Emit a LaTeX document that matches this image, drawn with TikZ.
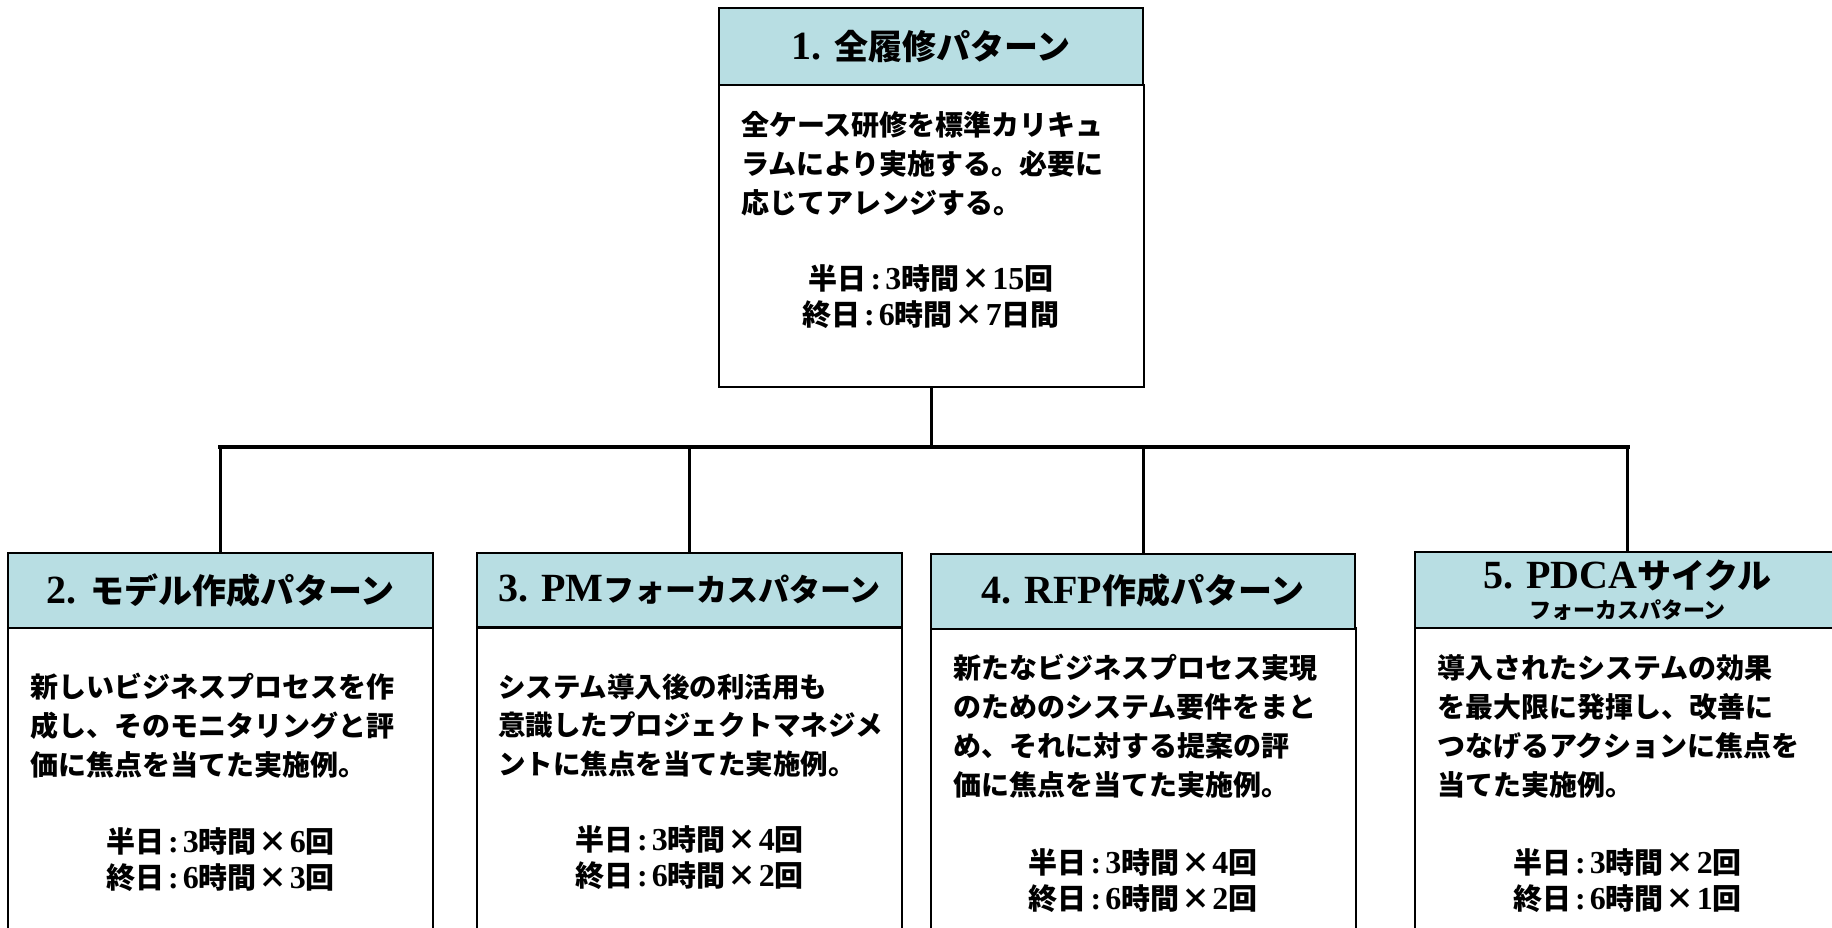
\documentclass[tikz,border=0pt]{standalone}
\usepackage{fontspec}
\setmainfont{Liberation Serif}
\newfontfamily\jp{Noto Sans CJK JP}
\newcommand\lt[1]{{\rmfamily\bfseries\fontsize{32}{36}\selectfont #1}}
\newcommand\hl[1]{{\rmfamily\bfseries\fontsize{40}{40}\selectfont #1}}
\newcommand\cl{\hspace{4pt}{\rmfamily\bfseries\fontsize{32}{36}\selectfont :}\hspace{4pt}}
\newcommand\tm{\hspace{2pt}×\hspace{2pt}}
\definecolor{hdrfill}{RGB}{184,222,227}
\tikzset{
  hdr/.style={draw=black, line width=2pt, fill=hdrfill, minimum width=425pt, inner sep=0pt,
    font=\jp\bfseries\fontsize{34}{36}\selectfont, align=center},
  bodybox/.style={draw=black, line width=2pt, fill=white, minimum width=425pt, inner sep=0pt},
  desc/.style={anchor=north west, inner sep=0pt, align=left,
    font=\jp\bfseries\fontsize{28}{39}\selectfont},
  sched/.style={anchor=north, inner sep=0pt, align=center,
    font=\jp\bfseries\fontsize{29}{36}\selectfont},
  conn/.style={line width=3pt, black},
  bus/.style={line width=4.5pt, black, line cap=rect},
}
\begin{document}
\begin{tikzpicture}[x=1pt, y=-1pt]
\clip (0,0) rectangle (1832,928);
\fill[white] (0,0) rectangle (1832,928);

% top box
\node[bodybox, minimum height=302pt] (b1) at (931,236) {};
\node[hdr, minimum width=424pt, minimum height=77pt] (h1) at (931,46.5) {\hl{1. }全履修パターン};
\node[desc] (t1) at (741,108) {\strut 全ケース研修を標準カリキュ\\\strut ラムにより実施する。必要に\\\strut 応じてアレンジする。};
\node[sched] (s1) at (931,264) {\strut 半日\cl\lt{3}時間\tm\lt{15}回\\\strut 終日\cl\lt{6}時間\tm\lt{7}日間};

% bottom boxes
\node[bodybox, minimum height=332pt] (b2) at (220.5,794) {};
\node[hdr, minimum height=75pt] (h2) at (220.5,590.5) {\hl{2. }モデル作成パターン};
\node[desc] (t2) at (30,670) {\strut 新しいビジネスプロセスを作\\\strut 成し、そのモニタリングと評\\\strut 価に焦点を当てた実施例。};
\node[sched] (s2) at (220.5,827) {\strut 半日\cl\lt{3}時間\tm\lt{6}回\\\strut 終日\cl\lt{6}時間\tm\lt{3}回};

\node[bodybox, minimum height=332pt] (b3) at (689.5,794) {};
\node[hdr, minimum height=74pt, font=\jp\bfseries\fontsize{31}{36}\selectfont] (h3) at (689.5,590) {\hl{3. PM}フォーカスパターン};
\node[desc, font=\jp\bfseries\fontsize{27.5}{38.5}\selectfont] (t3) at (498,670) {\strut システム導入後の利活用も\\\strut 意識したプロジェクトマネジメ\\\strut ントに焦点を当てた実施例。};
\node[sched] (s3) at (689.5,825) {\strut 半日\cl\lt{3}時間\tm\lt{4}回\\\strut 終日\cl\lt{6}時間\tm\lt{2}回};

\node[bodybox, minimum height=332pt] (b4) at (1143,794) {};
\node[hdr, minimum width=424pt, minimum height=75pt] (h4) at (1143,591) {\hl{4. RFP}作成パターン};
\node[desc] (t4) at (953,651) {\strut 新たなビジネスプロセス実現\\\strut のためのシステム要件をまと\\\strut め、それに対する提案の評\\\strut 価に焦点を当てた実施例。};
\node[sched] (s4) at (1143,848) {\strut 半日\cl\lt{3}時間\tm\lt{4}回\\\strut 終日\cl\lt{6}時間\tm\lt{2}回};

\node[bodybox, minimum height=332pt] (b5) at (1627.5,794) {};
\node[hdr, minimum height=76pt] (h5) at (1627.5,590) {\hl{5. PDCA}サイクル\\[-6pt]{\fontsize{22}{24}\selectfont フォーカスパターン}};
\node[desc] (t5) at (1437,651) {\strut 導入されたシステムの効果\\\strut を最大限に発揮し、改善に\\\strut つなげるアクションに焦点を\\\strut 当てた実施例。};
\node[sched] (s5) at (1627.5,848) {\strut 半日\cl\lt{3}時間\tm\lt{2}回\\\strut 終日\cl\lt{6}時間\tm\lt{1}回};

% connectors
\coordinate (j) at (931,447);
\draw[conn] (b1.south) -- (j);
\draw[bus] (h2.north |- j) -- (h5.north |- j);
\draw[conn] (h2.north |- j) -- (h2.north);
\draw[conn] (h3.north |- j) -- (h3.north);
\draw[conn] (h4.north |- j) -- (h4.north);
\draw[conn] (h5.north |- j) -- (h5.north);
\end{tikzpicture}
\end{document}
